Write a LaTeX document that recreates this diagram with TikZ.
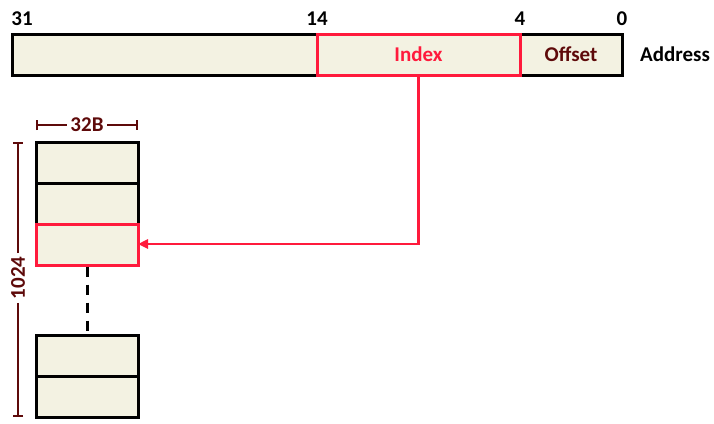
\documentclass[tikz,border=0pt]{standalone}
\usepackage{fontspec}
\setmainfont{Carlito}
\usetikzlibrary{arrows.meta}
\definecolor{beige}{HTML}{F3F2E2}
\definecolor{myred}{HTML}{FF1A3C}
\definecolor{dred}{HTML}{5E0A0A}
\begin{document}
\begin{tikzpicture}[x=1pt,y=-1pt,
  fld/.style={draw=black,fill=beige,line width=3pt},
  rfld/.style={draw=myred,fill=beige,line width=3pt},
  lbl/.style={font=\bfseries\fontsize{21}{23}\selectfont},
  dim/.style={draw=dred,line width=2pt}]
\useasboundingbox (0,0) rectangle (714,423);
% address fields
\draw[fld] (12,34) rectangle (317,75);
\draw[fld] (520,34) rectangle (622,75);
\draw[rfld] (317,34) rectangle (520,75);
\node[lbl,text=myred] (idx) at (418.5,54.5) {Index};
\node[lbl,text=dred] (off) at (571,54.5) {Offset};
\node[lbl] (addr) at (675,54.5) {Address};
\node[lbl] (b31) at (22,19) {31};
\node[lbl] (b14) at (317,19) {14};
\node[lbl] (b4) at (520,19) {4};
\node[lbl] (b0) at (622,19) {0};
\coordinate (idxb) at (418.5,75);
% cache lines
\draw[fld] (36,142) rectangle (138,183);
\draw[fld] (36,183) rectangle (138,224);
\draw[fld] (36,335) rectangle (138,376);
\draw[fld] (36,376) rectangle (138,417);
\draw[rfld] (36,224) rectangle (138,265);
\coordinate (sel) at (138,244);
\coordinate (dtop) at (87,266.5);
\coordinate (dbot) at (87,333.5);
\draw[line width=3pt,dash pattern=on 10pt off 8pt] (dtop) -- (dbot);
% arrow
\draw[myred,line width=2.4pt,-{Triangle[length=10pt,width=9pt]}] (idxb) |- (sel);
% dimension 32B
\node[lbl,text=dred] (w) at (87,125) {32B};
\draw[dim,-{Bar[width=10pt]}] (w.west) -- (36,125);
\draw[dim,-{Bar[width=10pt]}] (w.east) -- (138,125);
% dimension 1024
\node[lbl,text=dred,rotate=90] (h) at (18,278) {1024};
\draw[dim,-{Bar[width=10pt]}] (h.east) -- (18,142);
\draw[dim,-{Bar[width=10pt]}] (h.west) -- (18,417);
\end{tikzpicture}
\end{document}
